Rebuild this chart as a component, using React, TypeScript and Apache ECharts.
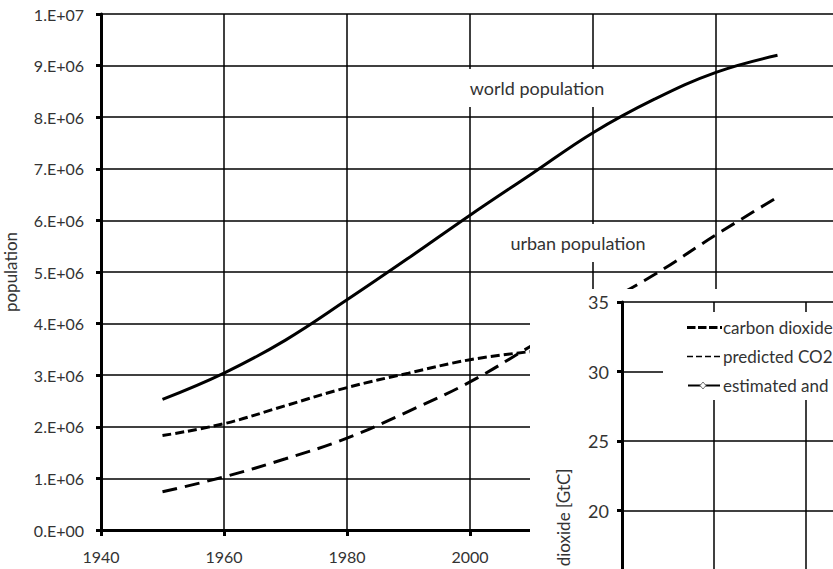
import React, { useEffect, useRef } from 'react';
import * as echarts from 'echarts';

// ---- data ----
const years = [1950, 1960, 1970, 1980, 1990, 2000, 2010, 2020, 2030, 2040, 2050];
const worldPopulation = [2.53e6, 3.04e6, 3.68e6, 4.46e6, 5.27e6, 6.1e6, 6.9e6, 7.7e6, 8.35e6, 8.87e6, 9.2e6];
const urbanPopulation = [0.74e6, 1.03e6, 1.38e6, 1.78e6, 2.3e6, 2.87e6, 3.57e6, 4.27e6, 4.95e6, 5.72e6, 6.45e6];
const ruralYears = [1950, 1960, 1970, 1980, 1990, 2000, 2010];
const ruralPopulation = [1.83e6, 2.06e6, 2.41e6, 2.76e6, 3.04e6, 3.3e6, 3.46e6];
const visibleYearLabels = [1940, 1960, 1980, 2000];
const insetVisibleTicks = [20, 25, 30, 35];
const legendNames = ['carbon dioxide', 'predicted CO2', 'estimated and'];

const FONT = 'Lato, "Open Sans", sans-serif';
const TXT = '#333';

const sci = (v: number) => {
  if (v === 0) return '0.E+00';
  const e = Math.floor(Math.log10(v) + 1e-9);
  const m = Math.round(v / Math.pow(10, e));
  return `${m}.E+${String(e).padStart(2, '0')}`;
};

const pairs = (xs: number[], ys: number[]) => xs.map((x, i) => [x, ys[i]]);

export default function App() {
  const ref = useRef<HTMLDivElement>(null);
  useEffect(() => {
    const chart = echarts.init(ref.current!, null, { renderer: 'svg' });
    const axisLine = { show: true, onZero: false, lineStyle: { color: '#000', width: 3 } };
    const tick = (len: number) => ({ show: true, length: len, lineStyle: { color: '#000', width: 3 } });
    const split = { show: true, lineStyle: { color: '#000', width: 1.5 } };
    const legendRows = [327.5, 356.5, 385.5];
    const option: any = {
      animation: false,
      backgroundColor: '#fff',
      grid: [
        { left: 101, top: 14, width: 738, height: 516, outerBoundsMode: 'none', containLabel: false },
        { left: 622, top: 302, width: 460, height: 486.5, outerBoundsMode: 'none', containLabel: false },
      ],
      xAxis: [
        {
          gridIndex: 0, type: 'value', min: 1940, max: 2060, interval: 20,
          axisLine, axisTick: tick(6), splitLine: split,
          axisLabel: {
            margin: 18, color: TXT, fontSize: 16, fontFamily: FONT,
            formatter: (v: number) => (visibleYearLabels.includes(v) ? String(v) : ''),
          },
        },
        {
          gridIndex: 1, type: 'value', min: 1960, max: 2060, interval: 20, z: 10,
          axisLine, axisTick: { show: false }, splitLine: split, axisLabel: { show: false },
        },
      ],
      yAxis: [
        {
          gridIndex: 0, type: 'value', min: 0, max: 1e7, interval: 1e6,
          name: 'population', nameLocation: 'middle', nameGap: 82,
          nameTextStyle: { color: TXT, fontSize: 17, fontFamily: FONT },
          axisLine, axisTick: tick(5), splitLine: split,
          axisLabel: { margin: 17, color: TXT, fontSize: 16, fontFamily: FONT, formatter: sci },
        },
        {
          gridIndex: 1, type: 'value', min: 0, max: 35, interval: 5, z: 10,
          name: 'carbon dioxide [GtC]', nameLocation: 'middle', nameGap: 50,
          nameTextStyle: { color: TXT, fontSize: 17, fontFamily: FONT },
          axisLine, axisTick: tick(5), splitLine: split,
          axisLabel: {
            margin: 13, color: TXT, fontSize: 18, fontFamily: FONT,
            formatter: (v: number) => (insetVisibleTicks.includes(v) ? String(v) : ''),
          },
        },
      ],
      series: [
        {
          type: 'line', name: 'world population', xAxisIndex: 0, yAxisIndex: 0,
          data: pairs(years, worldPopulation), smooth: 0.4, symbol: 'none', z: 2,
          lineStyle: { color: '#000', width: 3 },
        },
        {
          type: 'line', name: 'urban population', xAxisIndex: 0, yAxisIndex: 0,
          data: pairs(years, urbanPopulation), smooth: 0.4, symbol: 'none', z: 2,
          lineStyle: { color: '#000', width: 3, type: [15, 8] },
        },
        {
          type: 'line', name: 'rural population', xAxisIndex: 0, yAxisIndex: 0,
          data: pairs(ruralYears, ruralPopulation), smooth: 0.4, symbol: 'none', z: 2,
          lineStyle: { color: '#000', width: 3, type: [9, 4] },
        },
      ],
      graphic: [
        {
          type: 'text', x: 537, y: 88, z: 3,
          style: {
            text: 'world population', align: 'center', verticalAlign: 'middle',
            font: `18px ${FONT}`, fill: TXT, backgroundColor: '#fff', padding: [10, 6],
          },
        },
        {
          type: 'text', x: 578, y: 243, z: 3,
          style: {
            text: 'urban population', align: 'center', verticalAlign: 'middle',
            font: `18px ${FONT}`, fill: TXT, backgroundColor: '#fff', padding: [10, 6],
          },
        },
        // white panel of the inset chart
        { type: 'rect', z: 5, shape: { x: 530, y: 289, width: 600, height: 600 }, style: { fill: '#fff' } },
        // inset legend
        { type: 'rect', z: 20, shape: { x: 663, y: 312, width: 400, height: 88 }, style: { fill: '#fff' } },
        {
          type: 'line', z: 21, shape: { x1: 687, y1: legendRows[0], x2: 722, y2: legendRows[0] },
          style: { stroke: '#000', lineWidth: 3, lineDash: [8.5, 2.5] },
        },
        {
          type: 'line', z: 21, shape: { x1: 687, y1: legendRows[1], x2: 720, y2: legendRows[1] },
          style: { stroke: '#000', lineWidth: 1.5, lineDash: [6, 3] },
        },
        {
          type: 'line', z: 21, shape: { x1: 688, y1: legendRows[2], x2: 720, y2: legendRows[2] },
          style: { stroke: '#000', lineWidth: 2 },
        },
        {
          type: 'polygon', z: 22,
          shape: { points: [[703, legendRows[2] - 3.5], [706, legendRows[2]], [703, legendRows[2] + 3.5], [700, legendRows[2]]] },
          style: { fill: '#fff', stroke: '#555', lineWidth: 0.8 },
        },
        ...legendNames.map((t, i) => ({
          type: 'text', z: 21, x: 723, y: legendRows[i],
          style: { text: t, align: 'left', verticalAlign: 'middle', font: `17px ${FONT}`, fill: TXT },
        })),
      ],
    };
    chart.setOption(option);
    return () => chart.dispose();
  }, []);
  return (
    <div style={{ position: 'absolute', left: 0, top: 0, width: 833, height: 569, overflow: 'hidden', background: '#fff' }}>
      <div ref={ref} style={{ width: 1100, height: 800 }} />
    </div>
  );
}
